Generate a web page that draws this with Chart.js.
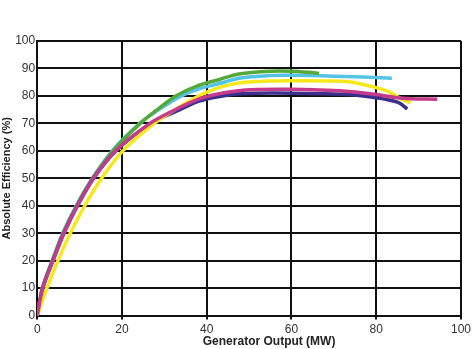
<!DOCTYPE html>
<html>
<head>
<meta charset="utf-8">
<script src="https://cdn.jsdelivr.net/npm/chart.js@4/dist/chart.umd.min.js"></script>
<style>
  html, body { margin: 0; padding: 0; background: #fff; }
  #wrap { width: 474px; height: 349px; position: relative; }
</style>
</head>
<body>
<div id="wrap"><canvas id="efficiency-chart"></canvas></div>
<script>
/*
 * Efficiency curves, one pair of arrays per unit
 */
const xTicks = [0, 20, 40, 60, 80, 100]
const yTicks = [0, 10, 20, 30, 40, 50, 60, 70, 80, 90, 100]

const magentaX = [0, 1.3, 3.7, 6.3, 9.5, 13.3, 18.5, 26.6, 32.3, 37.5, 42, 47, 52, 60, 70, 75, 80, 85, 88, 94.4]
const magentaY = [0, 10, 20, 30, 40, 50, 60, 70, 74.8, 78.5, 80.5, 81.8, 82.3, 82.4, 82, 81.4, 80.5, 79.3, 79, 78.8]

const navyX = [0, 1.3, 3.7, 6.3, 9.5, 13.3, 18.6, 26.8, 33, 38, 42, 47, 52, 60, 70, 75, 80, 83, 85.4, 86.5, 87.3]
const navyY = [0, 10, 20, 30, 40, 50, 60, 70, 74.5, 78, 79.5, 80.7, 81, 81, 80.7, 80.3, 79.3, 78.5, 77.5, 76.3, 75.2]

const greenX = [0, 1.2, 3.6, 6.1, 9.3, 13.1, 17.9, 24.3, 28.3, 32.7, 37.5, 43, 47.6, 55, 60, 64, 66.5]
const greenY = [0, 10, 20, 30, 40, 50, 60, 70, 75, 80, 83.5, 86, 88, 89, 89, 88.6, 88.2]

const cyanX = [0, 1.2, 3.5, 6, 9.2, 13, 17.7, 24.2, 28.7, 34, 38, 43, 47.6, 55, 60, 70, 80, 83.7]
const cyanY = [0, 10, 20, 30, 40, 50, 60, 70, 75, 80, 82.5, 84.5, 86.4, 87.4, 87.5, 87.2, 86.7, 86.4]

const yellowX = [0, 2.3, 4.9, 7.8, 11.2, 15.2, 20.2, 27.6, 32.5, 38.2, 42.9, 48, 55, 60, 70, 75, 80, 83, 85.4, 88.1]
const yellowY = [0, 10, 20, 30, 40, 50, 60, 70, 75, 80, 83, 84.8, 85.4, 85.5, 85.4, 84.8, 83, 81.5, 79.3, 77.5]

const toPoints = (xs, ys) => xs.map((x, i) => ({ x: x, y: ys[i] }))

const makeSet = (label, xs, ys, color) => ({
  label: label,
  data: toPoints(xs, ys),
  borderColor: color,
  backgroundColor: color,
  borderWidth: 3.5,
  pointRadius: 0,
  tension: 0.3,
  fill: false
})

/*
 * Draw the x axis title a little right of centre, like the original
 */
const xTitlePlugin = {
  id: 'xTitle',
  afterDraw(chart) {
    const c = chart.ctx
    const area = chart.chartArea
    c.save()
    c.font = 'bold 12px "Liberation Sans", Arial, sans-serif'
    c.fillStyle = '#222'
    c.textAlign = 'center'
    c.textBaseline = 'middle'
    c.fillText('Generator Output (MW)', (area.left + area.right) / 2 + 20, chart.height - 7)
    c.restore()
  }
}

const ctx = document.getElementById('efficiency-chart').getContext('2d')

const efficiencyChart = new Chart(ctx, {
  type: 'line',
  data: {
    datasets: [
      makeSet('Unit 5', magentaX, magentaY, '#c43a8c'),
      makeSet('Unit 4', yellowX, yellowY, '#f7e81c'),
      makeSet('Unit 1', navyX, navyY, '#3b2f8e'),
      makeSet('Unit 2', greenX, greenY, '#55a83a'),
      makeSet('Unit 3', cyanX, cyanY, '#55c3e6')
    ]
  },
  options: {
    responsive: true,
    maintainAspectRatio: false,
    animation: false,
    layout: { padding: { top: 41, right: 1, bottom: 9, left: 0 } },
    plugins: {
      legend: { display: false },
      tooltip: { enabled: false }
    },
    scales: {
      x: {
        type: 'linear',
        min: 0,
        max: 100,
        afterBuildTicks: scale => { scale.ticks = xTicks.map(v => ({ value: v })) },
        ticks: {
          color: '#333',
          font: { family: '"Liberation Sans", Arial, sans-serif', size: 12 },
          padding: 3,
          maxRotation: 0
        },
        grid: { color: '#111', lineWidth: 2, tickLength: 4, drawTicks: true },
        border: { color: '#111', width: 2 }
      },
      y: {
        min: 0,
        max: 100,
        afterBuildTicks: scale => { scale.ticks = yTicks.map(v => ({ value: v })) },
        ticks: {
          color: '#333',
          font: { family: '"Liberation Sans", Arial, sans-serif', size: 12 },
          padding: 2
        },
        grid: { color: '#111', lineWidth: 2, drawTicks: false },
        border: { color: '#111', width: 2 },
        title: {
          display: true,
          text: 'Absolute Efficiency (%)',
          color: '#222',
          font: { family: '"Liberation Sans", Arial, sans-serif', size: 11, weight: 'bold' },
          padding: { top: 0, bottom: 0 }
        }
      }
    }
  },
  plugins: [xTitlePlugin]
})
</script>
</body>
</html>
